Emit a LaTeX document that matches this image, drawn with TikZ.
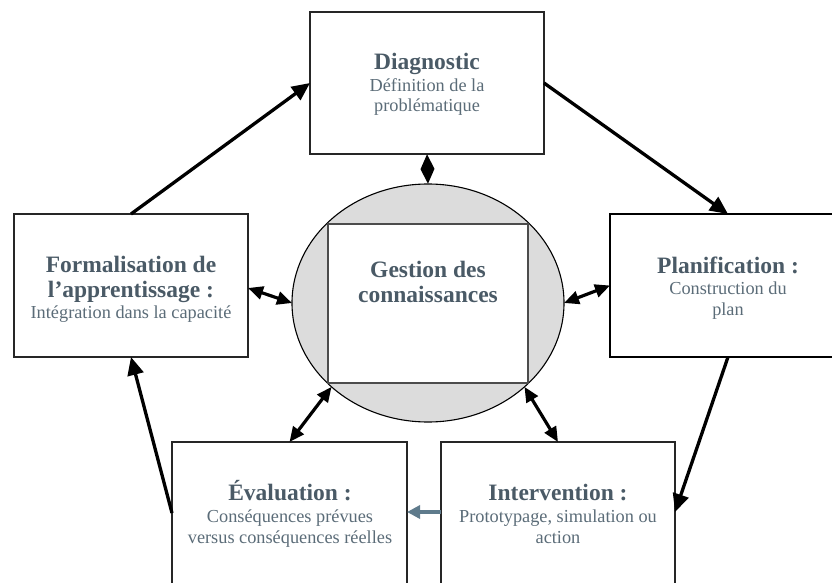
\documentclass[tikz,border=0pt]{standalone}
\usepackage{fontspec}
\setmainfont{Liberation Serif}
\usetikzlibrary{arrows.meta,shapes.geometric}
\definecolor{headc}{HTML}{4A5A66}
\definecolor{bodyc}{HTML}{5B6C78}
\definecolor{linkc}{HTML}{5F7B8C}
\definecolor{gestfill}{HTML}{DCDCDC}
\tikzset{
  stage/.style={draw=black!85, line width=1.1pt, fill=white, inner sep=0pt, outer sep=0pt},
  flow/.style={line width=3.3pt, -{Triangle[length=18pt,width=16pt]}},
  twoway/.style={line width=3.2pt, {Triangle[length=15pt,width=13pt]}-{Triangle[length=15pt,width=13pt]}},
  feed/.style={draw=linkc, line width=3.3pt, -{Triangle[length=13pt,width=13pt]}},
  head/.style={align=center, anchor=base, inner sep=0pt, text=headc,
    font=\fontsize{23.5}{25}\selectfont\bfseries},
  body/.style={align=center, anchor=base, inner sep=0pt, text=bodyc,
    font=\fontsize{18.3}{20.5}\selectfont},
}
\begin{document}
\begin{tikzpicture}[x=1pt,y=-1pt]
\clip (0,0) rectangle (832,583);
\useasboundingbox (0,0) rectangle (832,583);

% boxes of the cycle
\node[stage, minimum width=234pt, minimum height=142pt] (diag)   at (427,83)    {};
\node[stage, minimum width=234pt, minimum height=143pt] (form)   at (131,285.5) {};
\node[stage, draw=black, line width=2.4pt, minimum width=236pt, minimum height=143pt] (plan) at (728,285.5) {};
\node[stage, minimum width=235pt, minimum height=178pt] (eval)   at (289.5,531) {};
\node[stage, minimum width=234pt, minimum height=178pt] (interv) at (558,531)   {};

% central knowledge management
\node[ellipse, draw=black, line width=1.1pt, fill=gestfill, inner sep=0pt, outer sep=0pt,
      minimum width=272pt, minimum height=238pt] (gest) at (428,303) {};
\node[draw=black!70, line width=1.1pt, fill=white, inner sep=0pt, outer sep=0pt,
      minimum width=200pt, minimum height=159pt] (gestbox) at (428,303.5) {};

% texts (anchored on the baseline of their last line)
\node[head] (diagH) at (427,70)  {Diagnostic};
\node[body] (diagB) at (427,112) {Définition de la\\problématique};
\node[head] (formH) at (131,297) {Formalisation de\\l’apprentissage :};
\node[body] (formB) at (131,318) {Intégration dans la capacité};
\node[head] (planH) at (728,273) {Planification :};
\node[body] (planB) at (728,315) {Construction du\\plan};
\node[head] (gestH) at (428,302) {Gestion des\\connaissances};
\node[head] (evalH) at (290,500) {Évaluation :};
\node[body] (evalB) at (290,543) {Conséquences prévues\\versus conséquences réelles};
\node[head] (intvH) at (558,500) {Intervention :};
\node[body] (intvB) at (558,543) {Prototypage, simulation ou\\action};

% cycle
\draw[flow] (form.north) -- (diag.west);
\draw[flow] (diag.east) -- (plan.north);
\draw[flow] (plan.south) -- ([yshift=19pt]interv.east);
\draw[flow] ([yshift=18pt]eval.west) -- (form.south);
\draw[feed] ([yshift=19pt]interv.west) -- ([yshift=19pt]eval.east);

% exchanges with knowledge management
\draw[twoway] (diag.south) -- (gest.north);
\draw[twoway] ([yshift=-2.5pt]form.east) -- (gest.west);
\draw[twoway] (plan.west) -- (gest.east);
\draw[twoway] (eval.north) -- (gest.221);
\draw[twoway] (interv.north) -- (gest.319);
\end{tikzpicture}
\end{document}
